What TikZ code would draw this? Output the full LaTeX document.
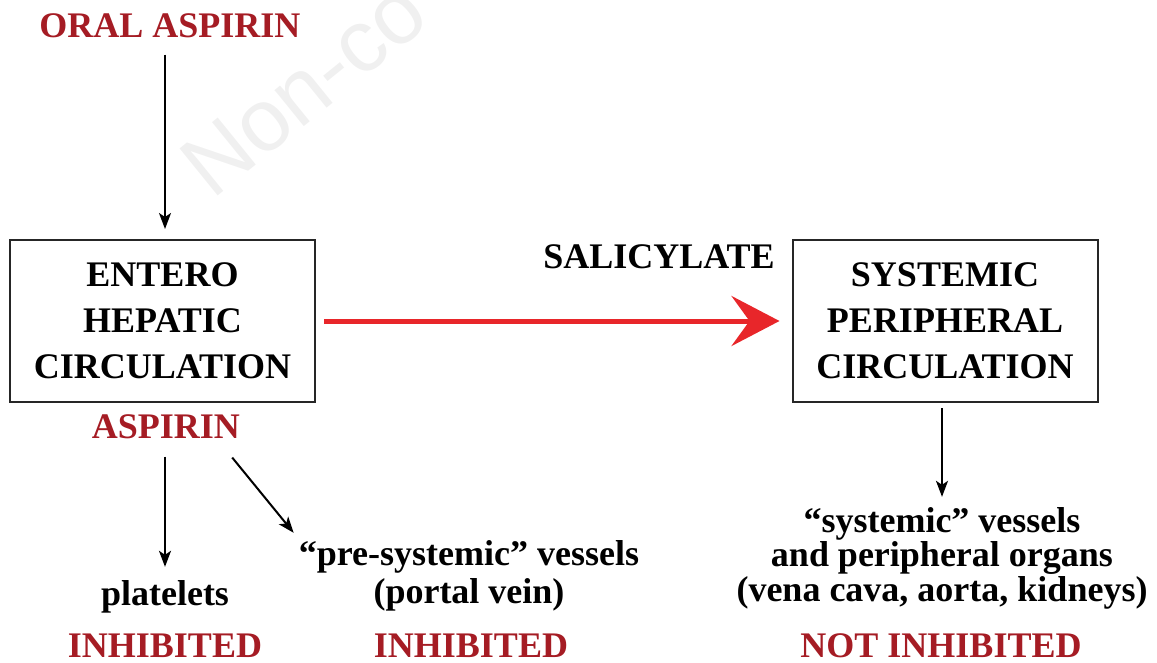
\documentclass[tikz,border=0pt]{standalone}
\usepackage{fontspec}
\setmainfont{Liberation Serif}
\newfontfamily\wmfont{Liberation Sans}
\usetikzlibrary{arrows.meta}
\definecolor{dred}{HTML}{A51C24}
\definecolor{ared}{HTML}{E8262A}
\definecolor{wm}{HTML}{F0F0F0}
\begin{document}
\begin{tikzpicture}[x=1pt,y=-1pt,
  txt/.style={font=\fontsize{36}{46}\selectfont\bfseries, inner sep=0pt, align=center},
  rtxt/.style={txt, text=dred},
  box/.style={txt, draw=black!85, line width=2pt, minimum width=305pt, minimum height=162pt},
  arr/.style={line width=2pt, -{Stealth[length=16pt,width=12pt,inset=4pt]}},
  redarr/.style={ared, line width=5pt, -{Stealth[length=48pt,width=50pt,inset=18pt]}}
]
\useasboundingbox (0,0) rectangle (1157,662);
\begin{scope}
\clip (0,0) rectangle (1157,662);
\node[wm, rotate=39, anchor=base west, inner sep=0pt, font=\wmfont\fontsize{88}{88}\selectfont] (wmark) at (212,201) {Non-co};
\end{scope}

\node[rtxt, anchor=base] (oral) at (170,37) {ORAL ASPIRIN};
\node[box] (ehc) at (162.5,321) {ENTERO\\HEPATIC\\CIRCULATION};
\node[box] (spc) at (945,321) {SYSTEMIC\\PERIPHERAL\\CIRCULATION};
\node[txt, anchor=base] (sal) at (659,268) {SALICYLATE};
\node[rtxt, anchor=base] (asp) at (166,438) {ASPIRIN};

\node[txt, anchor=base] (plt) at (165,605) {platelets};
\node[txt, anchor=base, font=\fontsize{36}{38}\selectfont\bfseries] (pre) at (469,603) {``pre-systemic'' vessels\\(portal vein)};
\node[txt, anchor=base, font=\fontsize{36}{34.5}\selectfont\bfseries] (sys) at (942,601) {``systemic'' vessels\\and peripheral organs\\(vena cava, aorta, kidneys)};

\node[rtxt, anchor=base] (inh1) at (165,657) {INHIBITED};
\node[rtxt, anchor=base] (inh2) at (471,657) {INHIBITED};
\node[rtxt, anchor=base] (ninh) at (941,657) {NOT INHIBITED};

\draw[arr, shorten <=17pt, shorten >=10pt] (oral.south -| ehc.north) ++(2.5,0) coordinate (o1) -- (o1 |- ehc.north);
\draw[redarr] ([xshift=8pt]ehc.east) -- ([xshift=-12pt]spc.west);
\draw[arr, shorten <=5pt, shorten >=10pt] ([xshift=-3pt]spc.south) -- ([xshift=-3pt]spc.south |- sys.north);
\draw[arr, shorten <=18pt, shorten >=13pt] ([xshift=-1pt]asp.south) -- (plt.north);
\draw[arr] ([xshift=-8pt,yshift=-19pt]asp.south east) -- ([xshift=-5pt,yshift=7pt]pre.north west);
\end{tikzpicture}
\end{document}
